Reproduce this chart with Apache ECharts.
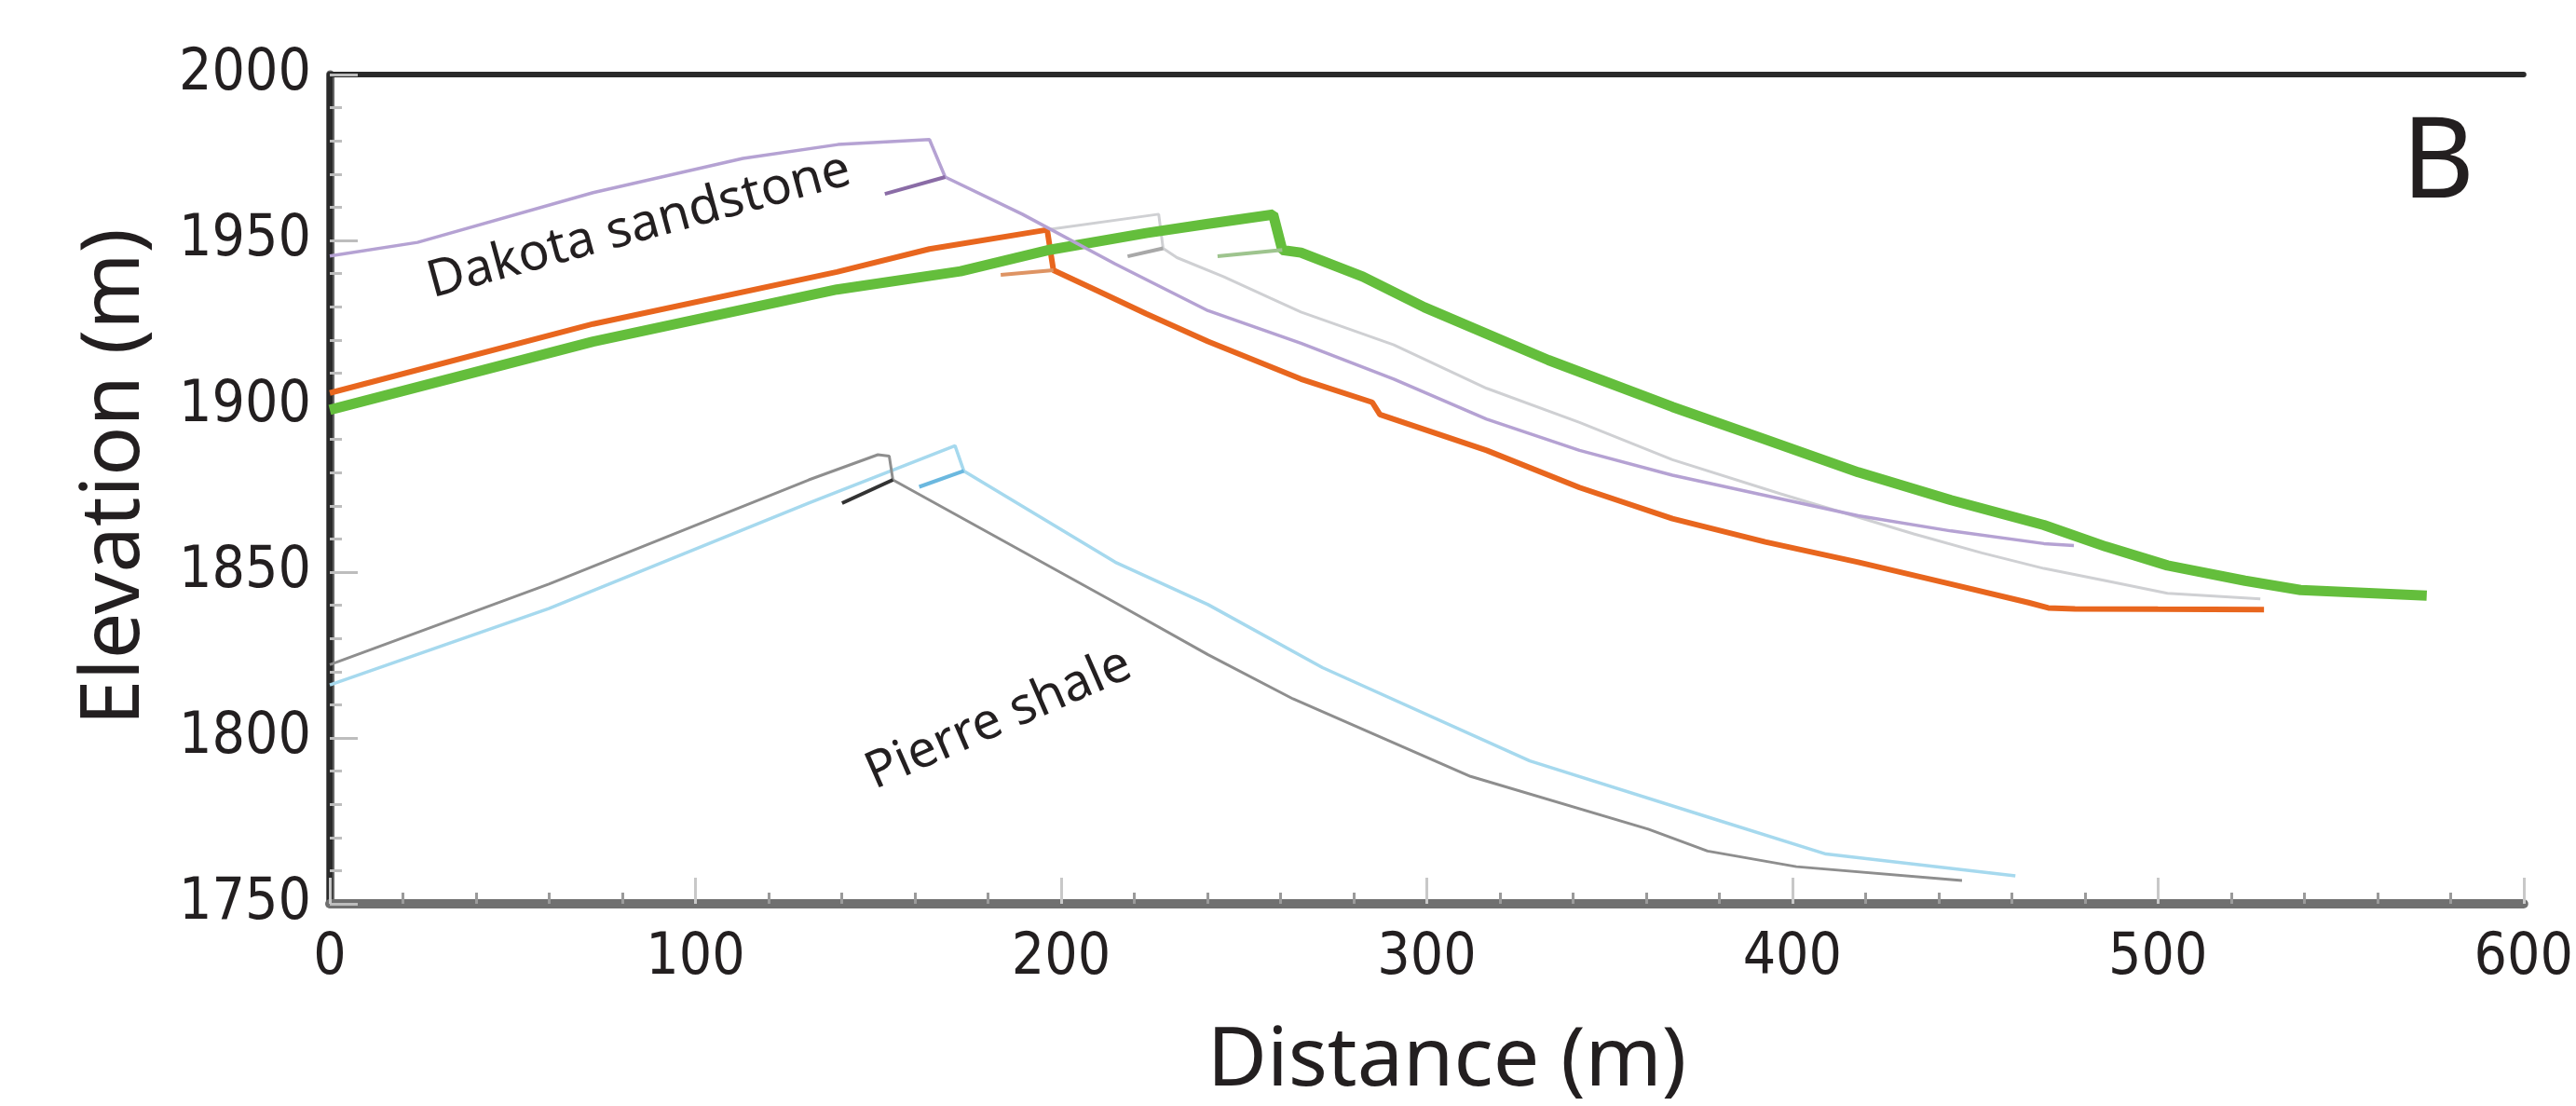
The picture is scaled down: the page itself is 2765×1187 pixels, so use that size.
<!DOCTYPE html>
<html>
<head>
<meta charset="utf-8">
<script src="https://cdn.jsdelivr.net/npm/echarts@6/dist/echarts.min.js"></script>
<style>
  html, body { margin: 0; padding: 0; background: #fff; }
  #chart { width: 2765px; height: 1187px; }
</style>
</head>
<body>
<div id="chart"></div>
<script>
// profile data, [distance m, elevation m]
var dakotaPurple = [[0,1945.3],[24,1949.4],[72,1964.4],[113,1974.7],[139,1978.9],[164,1980.4],[168.3,1969.1],[189.4,1957.9],[214.8,1942.9],[240.2,1928.8],[265.6,1919],[291,1908.2],[316.4,1896.1],[341.8,1886.7],[367.2,1879.2],[392.6,1873.1],[418,1867],[443.4,1862.4],[468.8,1858.6],[477,1858]];
var dakotaGray = [[196.2,1953.2],[226.7,1957.9],[227.9,1947.6],[231.7,1944.8],[244.4,1939.1],[257.2,1932.6],[265.6,1928.4],[291,1918.5],[316.4,1905.4],[341.8,1895.1],[367.2,1883.9],[396.8,1873.6],[433.2,1861.5],[451.8,1855.8],[468.8,1851.1],[485.7,1847.4],[502.6,1843.6],[523.8,1842.2],[528,1841.9]];
var dakotaOrange = [[0,1904],[72,1924.8],[138.7,1940.5],[164,1947.4],[196.2,1953.2],[197.9,1941],[210.6,1934.5],[223.3,1927.9],[240.2,1919.5],[265.6,1908.2],[285.1,1901.2],[287.2,1897.5],[316.4,1886.7],[341.8,1875.5],[367.2,1866.1],[392.6,1859.1],[418,1853],[443.4,1846.4],[464.6,1840.8],[470,1839.2],[477.3,1838.9],[500,1838.8],[529,1838.7]];
var dakotaGreen = [[0,1898.9],[72,1919.5],[138.7,1935.2],[172.5,1940.7],[197.1,1947.2],[223.3,1952.2],[240.2,1955],[258,1957.8],[260.5,1947.1],[265.6,1946.3],[282.5,1939.1],[299.4,1929.8],[333.3,1913.9],[367.2,1899.8],[392.6,1890],[418,1880.1],[443.4,1871.7],[468.8,1864.2],[485.7,1857.7],[502.6,1852],[523.8,1847.4],[539,1844.6],[573.5,1842.9]];
var pierreGray = [[0,1822.1],[59.9,1846.4],[131,1877.8],[149.9,1885.4],[153,1885],[154,1877.8],[214.8,1840.8],[240.2,1825.1],[263.4,1811.8],[312,1788.4],[360.6,1772.5],[376.8,1765.9],[401.1,1761.2],[446.4,1757]];
var pierreBlue = [[0,1816],[59.9,1839],[131,1870.8],[171,1888.1],[173.4,1880.5],[214.8,1853],[240.2,1840.2],[271.5,1821.2],[328.2,1793.1],[376.8,1776.2],[409.2,1765],[461,1758.4]];

// short offset pieces at each scarp
var stubPurple = [[168.3,1969.1],[151.8,1964]];
var stubOrange = [[197.9,1941],[183.5,1939.6]];
var stubGray = [[227.9,1947.6],[218.2,1945.2]];
var stubGreen = [[260.5,1947.1],[242.8,1945.2]];
var stubPierreGray = [[154,1877.8],[140.1,1870.8]];
var stubPierreBlue = [[173.4,1880.5],[161.2,1875.7]];

var xTicks = [0, 600, 100];
var yTicks = [1750, 2000, 50];

var labelFont = '"DejaVu Sans Condensed", "Liberation Sans Narrow", sans-serif';
var textFont = '"Noto Sans", "Open Sans", sans-serif';

var line = function(data, color, width, z){
    return {
        type: 'line',
        data: data,
        showSymbol: false,
        symbol: 'none',
        z: z,
        lineStyle: { color: color, width: width },
        emphasis: { disabled: true }
    };
}

var myChart = echarts.init(document.getElementById('chart'));
myChart.setOption({
    animation: false,
    backgroundColor: '#ffffff',
    grid: { left: 354, top: 80, width: 2365, height: 890 },
    xAxis: [{
        type: 'value',
        min: xTicks[0], max: xTicks[1], interval: xTicks[2],
        axisLine: { lineStyle: { color: '#707070', width: 10 } },
        axisTick: { inside: true, length: 28, lineStyle: { color: '#c8c8c8', width: 3 } },
        minorTick: { show: true, splitNumber: 5, length: 12, lineStyle: { color: '#9a9a9a', width: 3 } },
        splitLine: { show: false },
        axisLabel: { fontSize: 62, fontFamily: labelFont, color: '#231f20', margin: 28,
                     formatter: function(v){ return String(v); } }
    }, {
        type: 'value', position: 'top',
        min: xTicks[0], max: xTicks[1],
        axisLine: { lineStyle: { color: '#2a2a2a', width: 6 } },
        axisTick: { show: false }, axisLabel: { show: false }, splitLine: { show: false }
    }],
    yAxis: [{
        type: 'value',
        min: yTicks[0], max: yTicks[1], interval: yTicks[2],
        axisLine: { lineStyle: { color: '#666666', width: 9 } },
        axisTick: { inside: true, length: 30, lineStyle: { color: '#bdbdbd', width: 3 } },
        minorTick: { show: true, splitNumber: 5, length: 13, lineStyle: { color: '#bdbdbd', width: 3 } },
        splitLine: { show: false },
        axisLabel: { fontSize: 62, fontFamily: labelFont, color: '#231f20', margin: 20,
                     formatter: function(v){ return String(v); } }
    }, {
        type: 'value', position: 'right',
        min: yTicks[0], max: yTicks[1],
        axisLine: { lineStyle: { color: '#2a2a2a', width: 6 } },
        axisTick: { show: false }, axisLabel: { show: false }, splitLine: { show: false }
    }],
    series: [
        line(dakotaGray, '#cfd0d3', 3, 2),
        line(dakotaOrange, '#e8661e', 6, 3),
        line(dakotaGreen, '#64be3c', 11, 4),
        line(dakotaPurple, '#b5a2d3', 3.5, 5),
        line(pierreBlue, '#a6d9ee', 3.5, 3),
        line(pierreGray, '#8e8e8e', 3, 4),
        line(stubPurple, '#8a6ca6', 4, 6),
        line(stubOrange, '#de9464', 4, 6),
        line(stubGray, '#a8a8a8', 4, 6),
        line(stubGreen, '#9ec48e', 4, 6),
        line(stubPierreGray, '#333333', 4, 6),
        line(stubPierreBlue, '#6bb8df', 4, 6)
    ],
    graphic: [
        { type: 'text', x: 124, y: 512, rotation: Math.PI / 2,
          style: { text: 'Elevation (m)', fontSize: 88, fontFamily: textFont, fill: '#231f20', align: 'center', verticalAlign: 'middle' } },
        { type: 'text', x: 1553, y: 1140,
          style: { text: 'Distance (m)', fontSize: 88, fontFamily: textFont, fill: '#231f20', align: 'center', verticalAlign: 'middle' } },
        { type: 'text', x: 2617, y: 178,
          style: { text: 'B', fontSize: 120, fontFamily: textFont, fill: '#231f20', align: 'center', verticalAlign: 'middle' } },
        { type: 'text', x: 686, y: 243, rotation: 15.2 * Math.PI / 180,
          style: { text: 'Dakota sandstone', fontSize: 55, fontFamily: textFont, fill: '#231f20', align: 'center', verticalAlign: 'middle' } },
        { type: 'text', x: 1072, y: 772, rotation: 23.6 * Math.PI / 180,
          style: { text: 'Pierre shale', fontSize: 55, fontFamily: textFont, fill: '#231f20', align: 'center', verticalAlign: 'middle' } }
    ]
});
</script>
</body>
</html>
